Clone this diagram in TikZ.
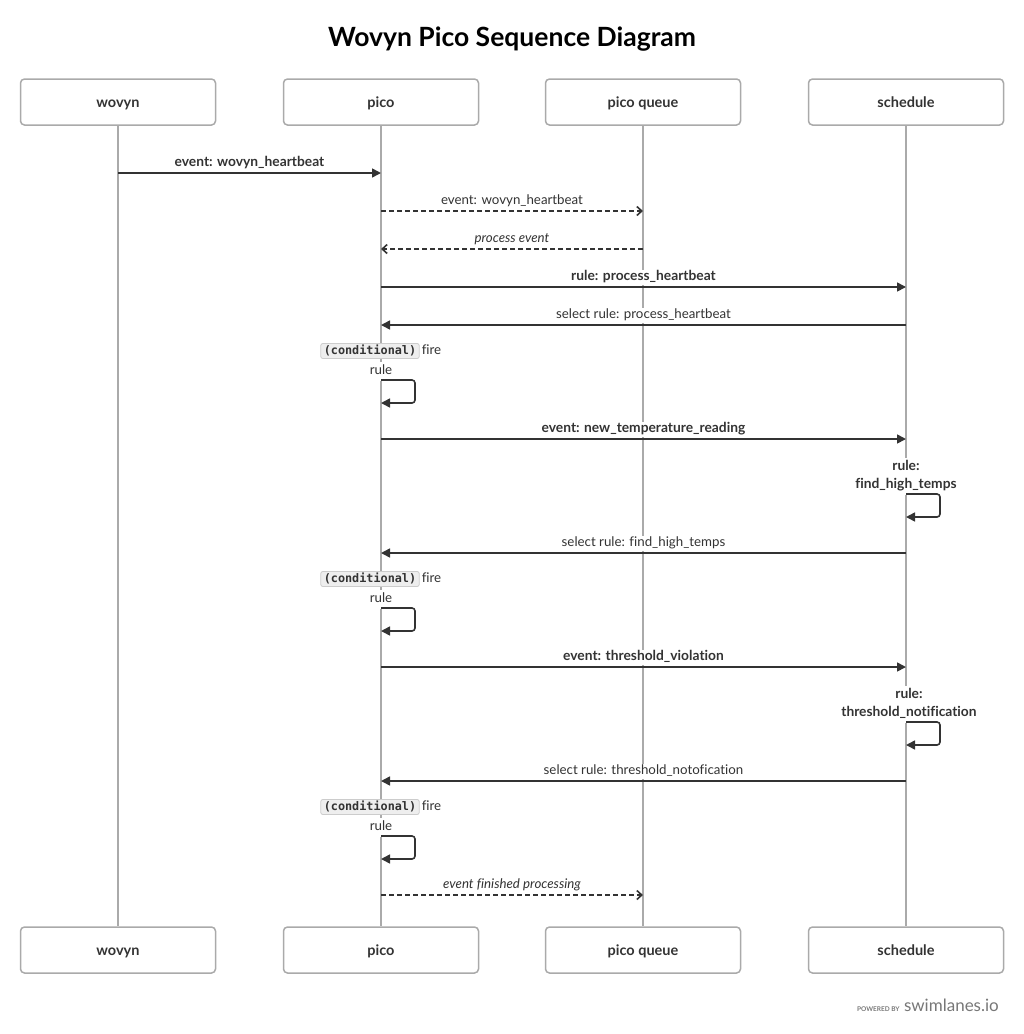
\documentclass[tikz,border=0pt]{standalone}
\usepackage{fontspec}
\setmainfont[Ligatures=NoCommon]{Lato}
\setmonofont{DejaVu Sans Mono}
\usetikzlibrary{arrows.meta}
\definecolor{boxgray}{HTML}{AAAAAA}
\definecolor{lifegray}{HTML}{AAAAAA}
\definecolor{arrowc}{HTML}{333333}
\definecolor{txt}{HTML}{333333}
\definecolor{codebg}{HTML}{EEEEEE}
\definecolor{codeline}{HTML}{CCCCCC}
\definecolor{logo}{HTML}{777777}
\tikzset{
  actor/.style={draw=boxgray, line width=1.5pt, rounded corners=4pt, minimum width=195pt, minimum height=46pt, inner sep=0pt, fill=white, text=txt, font=\bfseries\fontsize{14.5}{16}\selectfont},
  atext/.style={inner sep=0pt, anchor=base, text=txt, font=\bfseries\fontsize{14.5}{16}\selectfont},
  life/.style={draw=lifegray, line width=1.8pt},
  msg/.style={draw=arrowc, line width=1.6pt, -{Triangle[length=9pt,width=9pt]}},
  dmsg/.style={draw=arrowc, line width=1.6pt, dash pattern=on 5pt off 3pt, -{Straight Barb[length=5pt,width=9pt,line width=1.6pt]}},
  loopmsg/.style={msg, rounded corners=3pt},
  lbl/.style={fill=white, inner sep=1pt, text height=9.5pt, text depth=3pt, yshift=-3.5pt, text=txt, font=\fontsize{13.3}{15}\selectfont},
  blbl/.style={lbl, font=\bfseries\fontsize{13.8}{15}\selectfont},
  ilbl/.style={lbl, font=\itshape\fontsize{13.3}{15}\selectfont},
  tall/.style={inner ysep=3pt},
  codebox/.style={draw=codeline, fill=codebg, rounded corners=2pt, line width=0.8pt, inner xsep=3pt, inner ysep=1pt, text height=9pt, text depth=2.5pt, minimum height=15pt, yshift=-1pt, text=txt, font=\ttfamily\bfseries\fontsize{11.8}{13}\selectfont},
}
\begin{document}
\begin{tikzpicture}[x=1pt,y=-1pt]
\useasboundingbox (0,0) rectangle (1024,1034);
% title
\node[font=\bfseries\fontsize{26.5}{30}\selectfont, text=black, anchor=base, inner sep=0pt] (title) at (512,46) {Wovyn Pico Sequence Diagram};
% actors
\node[actor] (wt) at (118,102) {};
\node[actor] (pt) at (381,102) {};
\node[actor] (qt) at (643,102) {};
\node[actor] (st) at (906,102) {};
\node[actor] (wb) at (118,950) {};
\node[actor] (pb) at (381,950) {};
\node[actor] (qb) at (643,950) {};
\node[actor] (sb) at (906,950) {};
\foreach \a/\t in {wt/wovyn,pt/pico,qt/pico queue,st/schedule,wb/wovyn,pb/pico,qb/pico queue,sb/schedule}{
  \node[atext] (\a-t) at ([yshift=-5pt]\a.center) {\t};
}
% lifelines
\draw[life] (wt) -- (wb);
\draw[life] (pt) -- (pb);
\draw[life] (qt) -- (qb);
\draw[life] (st) -- (sb);
% coordinates on lifelines
\foreach \n/\y in {1/173,2/211,3/249,4/287,5/325,7/439,9/553,11/667,13/781,15/895}{
  \coordinate (w\n) at (118,\y);
  \coordinate (p\n) at (381,\y);
  \coordinate (q\n) at (643,\y);
  \coordinate (s\n) at (906,\y);
}
% labels
\node[blbl] (l1) at (249.5,160) {event: wovyn\_heartbeat};
\node[lbl] (l2) at (512,198) {event: wovyn\_heartbeat};
\node[ilbl] (l3) at (512,236) {process event};
\node[blbl] (l4) at (643.5,274) {rule: process\_heartbeat};
\node[lbl] (l5) at (643.5,312) {select rule: process\_heartbeat};
\node[lbl, tall] (r6) at (381,368) {rule};
\node[codebox] (c6) at (370,350) {(conditional)};
\node[lbl, anchor=west, inner sep=2pt, yshift=3.5pt] (f6) at (c6.east) {fire};
\node[blbl] (l7) at (643.5,426) {event: new\_temperature\_reading};
\node[blbl, tall] (l8a) at (906,464) {rule:};
\node[blbl, tall] (l8b) at (906,482) {find\_high\_temps};
\node[lbl] (l9) at (643.5,540) {select rule: find\_high\_temps};
\node[lbl, tall] (r10) at (381,596) {rule};
\node[codebox] (c10) at (370,578) {(conditional)};
\node[lbl, anchor=west, inner sep=2pt, yshift=3.5pt] (f10) at (c10.east) {fire};
\node[blbl] (l11) at (643.5,654) {event: threshold\_violation};
\node[blbl, tall] (l12a) at (909,692) {rule:};
\node[blbl, tall] (l12b) at (909,710) {threshold\_notification};
\node[lbl] (l13) at (643.5,768) {select rule: threshold\_notofication};
\node[lbl, tall] (r14) at (381,824) {rule};
\node[codebox] (c14) at (370,806) {(conditional)};
\node[lbl, anchor=west, inner sep=2pt, yshift=3.5pt] (f14) at (c14.east) {fire};
\node[ilbl] (l15) at (512,882) {event finished processing};
% messages
\draw[msg] (w1) -- (p1);
\draw[dmsg] (p2) -- (q2);
\draw[dmsg] (q3) -- (p3);
\draw[msg] (p4) -- (s4);
\draw[msg] (s5) -- (p5);
\coordinate (a6) at (381,380); \coordinate (b6) at (381,403);
\draw[loopmsg] (a6) -- ++(34,0) -- ++(0,23) -- (b6);
\draw[msg] (p7) -- (s7);
\coordinate (a8) at (906,494); \coordinate (b8) at (906,517);
\draw[loopmsg] (a8) -- ++(34,0) -- ++(0,23) -- (b8);
\draw[msg] (s9) -- (p9);
\coordinate (a10) at (381,608); \coordinate (b10) at (381,631);
\draw[loopmsg] (a10) -- ++(34,0) -- ++(0,23) -- (b10);
\draw[msg] (p11) -- (s11);
\coordinate (a12) at (906,722); \coordinate (b12) at (906,745);
\draw[loopmsg] (a12) -- ++(34,0) -- ++(0,23) -- (b12);
\draw[msg] (s13) -- (p13);
\coordinate (a14) at (381,836); \coordinate (b14) at (381,859);
\draw[loopmsg] (a14) -- ++(34,0) -- ++(0,23) -- (b14);
\draw[dmsg] (p15) -- (q15);
% logo
\node[anchor=base east, inner sep=0pt, text=logo, font=\fontsize{17}{19}\selectfont] (logo) at (999,1011) {swimlanes.io};
\node[anchor=base east, inner sep=0pt, text=logo, font=\bfseries\fontsize{6.5}{7}\selectfont] (pow) at ([xshift=-4pt]logo.base west) {POWERED BY};
\end{tikzpicture}
\end{document}
